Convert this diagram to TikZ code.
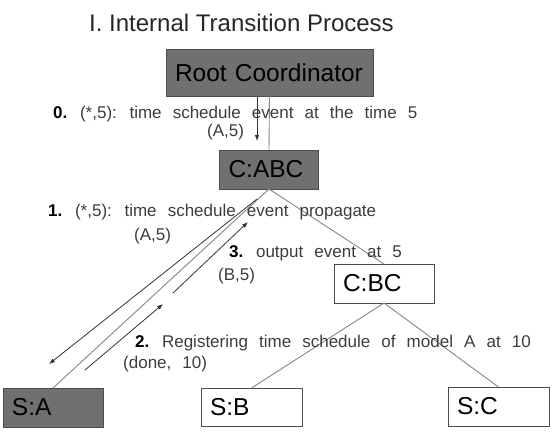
\documentclass[tikz,border=0pt]{standalone}
\usepackage{fontspec}
\setmainfont{Liberation Sans}
\newfontfamily\lblfont{Liberation Sans}[WordSpace=2.35]
\usetikzlibrary{arrows.meta}
\definecolor{boxgray}{HTML}{707070}
\definecolor{edgegray}{HTML}{858585}
\definecolor{lblgray}{HTML}{3C3C3C}
\begin{document}
\begin{tikzpicture}[x=1pt,y=-1pt,
  box/.style={draw=black!70, line width=0.8pt, rectangle, anchor=north west,
    inner xsep=9pt, inner ysep=0pt, outer sep=0pt, align=left,
    font=\fontsize{24.5}{27}\selectfont},
  darkbox/.style={box, fill=boxgray},
  lightbox/.style={box, fill=white},
  edge/.style={draw=edgegray, line width=0.9pt},
  arr/.style={draw=black!80, line width=0.8pt, -{Latex[length=6pt,width=4.5pt]}},
  lbl/.style={anchor=base west, inner sep=0pt, text=lblgray,
    font=\lblfont\fontsize{17}{20}\selectfont}]
\useasboundingbox (0,0) rectangle (556,431);

% title
\node[anchor=base west, inner sep=0pt, font=\fontsize{24}{28}\selectfont, text=black!85]
  (title) at (89,31) {I. Internal Transition Process};

% boxes
\node[darkbox, text width=189pt, minimum height=47pt] (root) at (166,49) {Root Coordinator};
\node[darkbox, text width=81pt, minimum height=39pt] (cabc) at (219.5,150) {C:ABC};
\node[lightbox, text width=82pt, minimum height=39pt] (cbc) at (334,264) {C:BC};
\node[darkbox, text width=82pt, minimum height=39pt] (sa) at (3,388) {S:A};
\node[lightbox, text width=83pt, minimum height=38pt] (sb) at (201,388) {S:B};
\node[lightbox, text width=83pt, minimum height=39pt] (sc) at (448,387) {S:C};

% tree edges
\draw[edge] (root.south) -- (cabc.north);
\draw[edge] (cabc.south) -- (sa.north);
\draw[edge] (cabc.south) -- (cbc.north);
\draw[edge] (cbc.south) -- (sb.north);
\draw[edge] (cbc.south) -- (sc.north);

% arrow end points
\coordinate (a0s) at (257,97);
\coordinate (a0e) at (257,141);
\coordinate (a1s) at (257,199);
\coordinate (a1e) at (49,364);
\coordinate (a2s) at (85,370);
\coordinate (a2e) at (163,304);
\coordinate (a3s) at (173,293);
\coordinate (a3e) at (248,222);

\draw[arr] (a0s) -- (a0e);
\draw[arr] (a1s) -- (a1e);
\draw[arr] (a2s) -- (a2e);
\draw[arr] (a3s) -- (a3e);

% labels
\node[lbl] (l0) at (53,118) {{\color{black}\bfseries 0.} (*,5): time schedule event at the time 5};
\node[lbl] (l0b) at (207,136) {(A,5)};
\node[lbl] (l1) at (48,216) {{\color{black}\bfseries 1.} (*,5): time schedule event propagate};
\node[lbl] (l1b) at (134,240) {(A,5)};
\node[lbl] (l3) at (229,257) {{\color{black}\bfseries 3.} output event at 5};
\node[lbl] (l3b) at (218,280) {(B,5)};
\node[lbl] (l2) at (135,347) {{\color{black}\bfseries 2.} Registering time schedule of model A at 10};
\node[lbl] (l2b) at (123,368) {(done, 10)};
\end{tikzpicture}
\end{document}
